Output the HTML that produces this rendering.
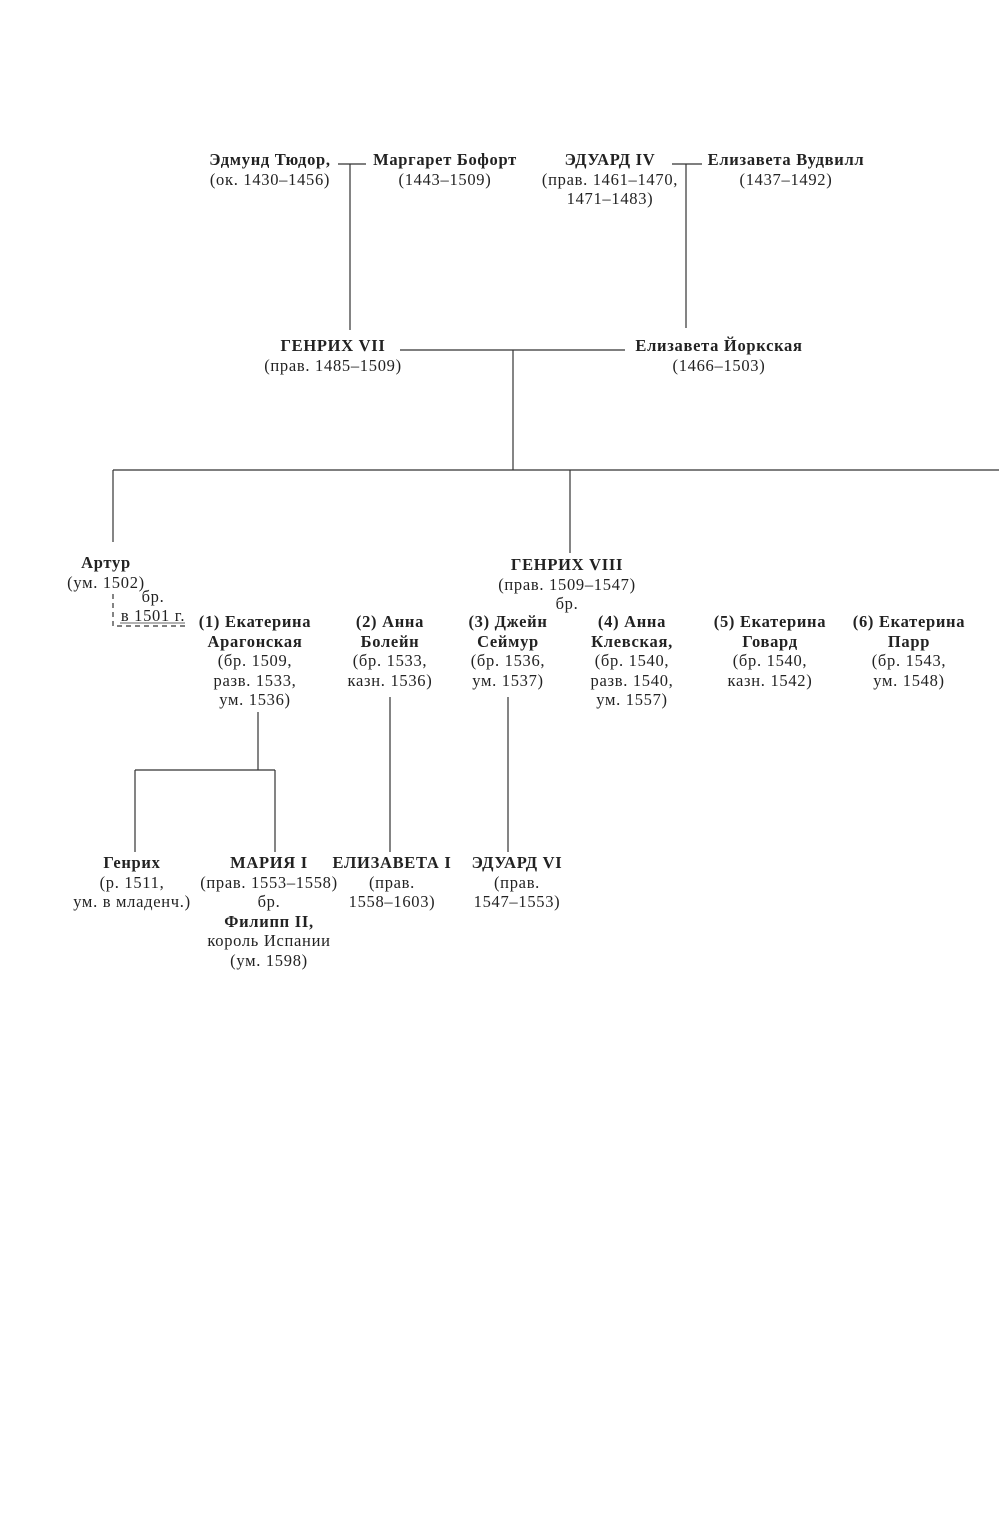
<!DOCTYPE html>
<html><head><meta charset="utf-8"><style>
body{margin:0;background:#fff;width:999px;height:1517px;position:relative;overflow:hidden;font-family:"Liberation Serif",serif;font-size:16.5px;letter-spacing:0.7px;color:#222}
.t{position:absolute;transform:translateX(-50%);text-align:center;line-height:19.5px;white-space:nowrap}
b{font-weight:bold}
</style></head><body>
<svg width="999" height="1517" style="position:absolute;left:0;top:0" stroke="#333" stroke-width="1.2" fill="none">
<line x1="338" y1="164" x2="366" y2="164"/><line x1="350" y1="164" x2="350" y2="330"/>
<line x1="672" y1="164" x2="702" y2="164"/><line x1="686" y1="164" x2="686" y2="328"/>
<line x1="400" y1="350" x2="625" y2="350"/><line x1="513" y1="350" x2="513" y2="470"/>
<line x1="113" y1="470" x2="999" y2="470"/>
<line x1="113" y1="470" x2="113" y2="542"/><line x1="570" y1="470" x2="570" y2="553"/>
<path d="M113 594 V626 H187" stroke-dasharray="5 4"/>
<line x1="120" y1="623" x2="185" y2="623" stroke-width="0.8"/>
<line x1="258" y1="712" x2="258" y2="770"/><line x1="135" y1="770" x2="275" y2="770"/>
<line x1="135" y1="770" x2="135" y2="852"/><line x1="275" y1="770" x2="275" y2="852"/>
<line x1="390" y1="697" x2="390" y2="852"/><line x1="508" y1="697" x2="508" y2="852"/>
</svg>
<div class="t" style="left:270px;top:150px"><b>Эдмунд Тюдор,</b><br>(ок. 1430–1456)</div>
<div class="t" style="left:445px;top:150px"><b>Маргарет Бофорт</b><br>(1443–1509)</div>
<div class="t" style="left:610px;top:150px"><b>ЭДУАРД IV</b><br>(прав. 1461–1470,<br>1471–1483)</div>
<div class="t" style="left:786px;top:150px"><b>Елизавета Вудвилл</b><br>(1437–1492)</div>
<div class="t" style="left:333px;top:336px"><b>ГЕНРИХ VII</b><br>(прав. 1485–1509)</div>
<div class="t" style="left:719px;top:336px"><b>Елизавета Йоркская</b><br>(1466–1503)</div>
<div class="t" style="left:106px;top:553px"><b>Артур</b><br>(ум. 1502)</div>
<div class="t" style="left:153px;top:587px;line-height:19px">бр.<br>в 1501 г.</div>
<div class="t" style="left:567px;top:555px"><b>ГЕНРИХ VIII</b><br>(прав. 1509–1547)<br>бр.</div>
<div class="t" style="left:255px;top:612px"><b>(1) Екатерина<br>Арагонская</b><br>(бр. 1509,<br>разв. 1533,<br>ум. 1536)</div>
<div class="t" style="left:390px;top:612px"><b>(2) Анна<br>Болейн</b><br>(бр. 1533,<br>казн. 1536)</div>
<div class="t" style="left:508px;top:612px"><b>(3) Джейн<br>Сеймур</b><br>(бр. 1536,<br>ум. 1537)</div>
<div class="t" style="left:632px;top:612px"><b>(4) Анна<br>Клевская,</b><br>(бр. 1540,<br>разв. 1540,<br>ум. 1557)</div>
<div class="t" style="left:770px;top:612px"><b>(5) Екатерина<br>Говард</b><br>(бр. 1540,<br>казн. 1542)</div>
<div class="t" style="left:909px;top:612px"><b>(6) Екатерина<br>Парр</b><br>(бр. 1543,<br>ум. 1548)</div>
<div class="t" style="left:132px;top:853px"><b>Генрих</b><br>(р. 1511,<br>ум. в младенч.)</div>
<div class="t" style="left:269px;top:853px"><b>МАРИЯ I</b><br>(прав. 1553–1558)<br>бр.<br><b>Филипп II,</b><br>король Испании<br>(ум. 1598)</div>
<div class="t" style="left:392px;top:853px"><b>ЕЛИЗАВЕТА I</b><br>(прав.<br>1558–1603)</div>
<div class="t" style="left:517px;top:853px"><b>ЭДУАРД VI</b><br>(прав.<br>1547–1553)</div>
</body></html>
